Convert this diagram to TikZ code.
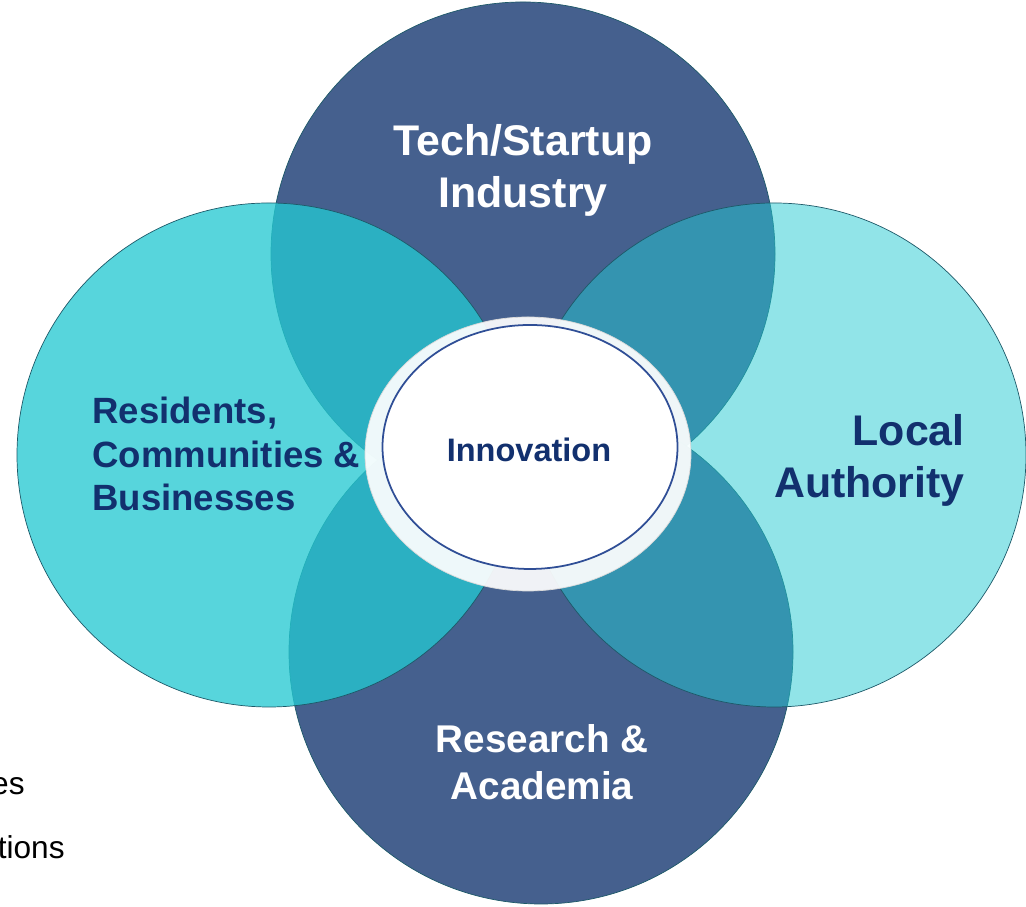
\documentclass[tikz,border=0pt]{standalone}
\usepackage{fontspec}
\setmainfont{Liberation Sans}
\usetikzlibrary{shapes.geometric}
\definecolor{navyring}{HTML}{45608E}
\definecolor{cyanring}{RGB}{36,201,210}
\definecolor{edgeteal}{HTML}{1D5968}
\definecolor{inktext}{HTML}{12306E}
\definecolor{innerline}{HTML}{2F4E96}

\begin{document}
\begin{tikzpicture}[
	ring/.style={circle,minimum size=10.08cm,inner sep=0pt,draw=edgeteal,line width=0.4pt},
	ringtext/.style={inner sep=0pt,font=\bfseries},
	]
	\useasboundingbox (0,0) rectangle (20.52,18.14);
	% the four circles
	\node[ring,fill=navyring] (tech) at (10.46,13.06) {};
	\node[ring,fill=navyring] (research) at (10.82,5.10) {};
	\node[ring,fill=cyanring,fill opacity=0.77] (residents) at (5.38,9.04) {};
	\node[ring,fill=cyanring,fill opacity=0.5] (authority) at (15.48,9.04) {};
	% centre
	\node[ellipse,minimum width=6.52cm,minimum height=5.48cm,fill=white,fill opacity=0.92,draw=gray!30] (halo) at (10.56,9.06) {};
	\node[ellipse,minimum width=5.9cm,minimum height=4.88cm,fill=white,draw=innerline,line width=1pt] (core) at (10.6,9.2) {};
	% texts
	\node[ringtext,text=inktext,font=\bfseries\fontsize{18.5}{22}\selectfont] (innovation) at (10.58,9.15) {Innovation};
	\node[ringtext,text=white,align=center,font=\bfseries\fontsize{24.4}{29.6}\selectfont] (techtext) at (10.46,14.74) {Tech/Startup\\Industry};
	\node[ringtext,text=white,align=center,font=\bfseries\fontsize{22}{26.7}\selectfont] (researchtext) at (10.84,2.90) {Research \&\\Academia};
	\node[ringtext,text=inktext,align=right,anchor=east,font=\bfseries\fontsize{24.4}{29.6}\selectfont] (authoritytext) at (19.30,8.94) {Local\\Authority};
	\node[ringtext,text=inktext,align=left,anchor=west,font=\bfseries\fontsize{20.8}{24.5}\selectfont] (residentstext) at (1.84,9.06) {Residents,\\Communities \&\\Businesses};
	\node[inner sep=0pt,anchor=base east,font=\fontsize{18}{21}\selectfont] (fringea) at (0.50,2.24) {es};
	\node[inner sep=0pt,anchor=base east,font=\fontsize{18}{21}\selectfont] (fringeb) at (1.30,0.96) {tions};
\end{tikzpicture}
\end{document}
